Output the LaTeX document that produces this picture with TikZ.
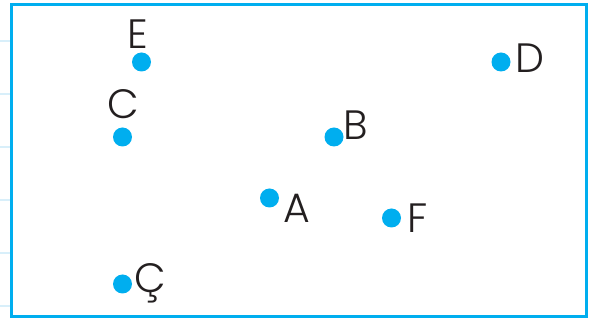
\documentclass[tikz,border=0pt]{standalone}
\usepackage{fontspec}
\setmainfont{Poppins Light}
\definecolor{dotblue}{HTML}{00AEEF}
\definecolor{gridblue}{HTML}{D8EFFA}
\definecolor{ink}{HTML}{231F20}
\begin{document}
\begin{tikzpicture}[x=1pt,y=-1pt,
  pt/.style={circle,fill=dotblue,inner sep=0pt,minimum size=19pt},
  lab/.style={anchor=base,inner sep=0pt,text=ink,font=\fontsize{41}{41}\selectfont}]
\useasboundingbox (0,0) rectangle (590,320);
\foreach \yy in {41,94,147,200,253,306}
  \draw[gridblue,line width=2pt] (0,\yy) -- (10,\yy);
\draw[dotblue,line width=3pt] (11.5,4.5) rectangle (586.5,316.5);
\node[pt] (E) at (141.5,62) {};
\node[pt] (C) at (122.5,137) {};
\node[pt] (Cc) at (122.5,284) {};
\node[pt] (D) at (501,62) {};
\node[pt] (B) at (334,137) {};
\node[pt] (A) at (269.5,198) {};
\node[pt] (F) at (391.5,218) {};
\node[lab] (lE) at (138,49) {E};
\node[lab] (lC) at (123,119) {C};
\node[lab] (lCc) at (150,293) {Ç};
\node[lab] (lD) at (530,73) {D};
\node[lab] (lB) at (356,140) {B};
\node[lab] (lA) at (297,223) {A};
\node[lab] (lF) at (418,233) {F};
\end{tikzpicture}
\end{document}
